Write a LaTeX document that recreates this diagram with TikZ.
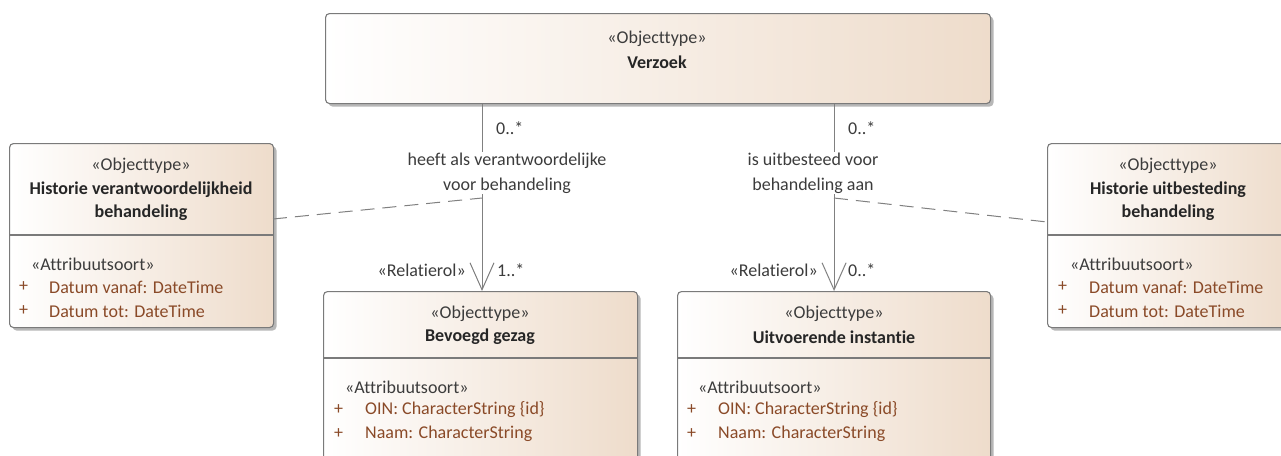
\documentclass[tikz,border=0pt]{standalone}
\usepackage{fontspec}
\setmainfont{Carlito}[Ligatures={NoCommon}]
\usetikzlibrary{shadows,arrows.meta}
\definecolor{edgec}{HTML}{7A7A7A}
\definecolor{lncol}{HTML}{808080}
\definecolor{tanc}{RGB}{238,220,203}
\definecolor{attrc}{HTML}{8A4A28}
\definecolor{txtc}{HTML}{3C3C3C}
\tikzset{
  every node/.style={font=\fontsize{18}{25}\selectfont, inner sep=0pt},
  cls/.style n args={2}{draw=edgec, line width=1.1pt, rounded corners=4pt,
    left color=white, right color=tanc, anchor=north west,
    minimum width=#1pt, minimum height=#2pt,
    drop shadow={shadow xshift=3pt, shadow yshift=-3pt, fill=black!40, opacity=0.7}},
  stereo/.style={text=txtc},
  title/.style={text=black!85, font=\fontsize{18}{25}\selectfont\bfseries},
  attr/.style={text=attrc, anchor=west},
  divider/.style={draw=edgec, line width=1.1pt},
  assoc/.style={draw=lncol, line width=1pt},
  openarrow/.style={-{Straight Barb[length=27pt, width=24pt, line width=1pt]}},
  link/.style={draw=lncol, line width=1pt, dash pattern=on 14pt off 8pt},
  lbl/.style={text=txtc},
  rolelbl/.style={text=txtc, fill=white, inner sep=1pt, align=center}
}
\begin{document}
\begin{tikzpicture}[x=1pt,y=-1pt]
\path[use as bounding box] (0,0) rectangle (1281,455);
\clip (0,0) rectangle (1281,455);
\fill[white] (0,0) rectangle (1281,455);

% boxes
\node[cls={665}{90}] (verzoek) at (325,13) {};
\node[cls={264}{184}] (histL) at (9,143) {};
\node[cls={314}{200}] (bev) at (323,291) {};
\node[cls={313}{200}] (uitv) at (677,291) {};
\node[cls={244}{184}] (histR) at (1047,143) {};

% dividers
\draw[divider] (histL.west |- 0,235) -- (histL.east |- 0,235);
\draw[divider] (bev.west |- 0,358) -- (bev.east |- 0,358);
\draw[divider] (uitv.west |- 0,358) -- (uitv.east |- 0,358);
\draw[divider] (histR.west |- 0,235) -- (histR.east |- 0,235);

% Verzoek
\node[stereo] (vS) at (657,39) {«Objecttype»};
\node[title] (vT) at (657,62) {Verzoek};

% Historie L
\node[stereo] (hlS) at (141,166) {«Objecttype»};
\node[title] (hlT1) at (141,190) {Historie verantwoordelijkheid};
\node[title] (hlT2) at (141,213) {behandeling};
\node[stereo, anchor=west] (hlA) at (31,264) {«Attribuutsoort»};
\node[attr] (hlP1) at (19,287) {+};
\node[attr] (hlA1) at (49,287) {Datum vanaf: DateTime};
\node[attr] (hlP2) at (19,311) {+};
\node[attr] (hlA2) at (49,311) {Datum tot: DateTime};

% Bevoegd gezag
\node[stereo] (bS) at (480,314) {«Objecttype»};
\node[title] (bT) at (480,337) {Bevoegd gezag};
\node[stereo, anchor=west] (bA) at (345,387) {«Attribuutsoort»};
\node[attr] (bP1) at (334,410) {+};
\node[attr] (bA1) at (365,410) {OIN: CharacterString \{id\}};
\node[attr] (bP2) at (334,434) {+};
\node[attr] (bA2) at (365,434) {Naam: CharacterString};

% Uitvoerende instantie
\node[stereo] (uS) at (834,314) {«Objecttype»};
\node[title] (uT) at (834,337) {Uitvoerende instantie};
\node[stereo, anchor=west] (uA) at (698,387) {«Attribuutsoort»};
\node[attr] (uP1) at (687,410) {+};
\node[attr] (uA1) at (718,410) {OIN: CharacterString \{id\}};
\node[attr] (uP2) at (687,434) {+};
\node[attr] (uA2) at (718,434) {Naam: CharacterString};

% Historie R
\node[stereo] (hrS) at (1168,166) {«Objecttype»};
\node[title] (hrT1) at (1168,190) {Historie uitbesteding};
\node[title] (hrT2) at (1168,213) {behandeling};
\node[stereo, anchor=west] (hrA) at (1070,264) {«Attribuutsoort»};
\node[attr] (hrP1) at (1058,287) {+};
\node[attr] (hrA1) at (1089,287) {Datum vanaf: DateTime};
\node[attr] (hrP2) at (1058,311) {+};
\node[attr] (hrA2) at (1089,311) {Datum tot: DateTime};

% associations
\coordinate (a1) at (482,198);
\coordinate (a2) at (834,198);
\coordinate (hlE) at (273,219);
\coordinate (hrW) at (1047,222);
\draw[link] (hlE) -- (a1);
\draw[link] (a2) -- (hrW);
\draw[assoc, openarrow] (verzoek.south -| 482,0) -- (482,291);
\draw[assoc, openarrow] (verzoek.south -| uitv.north) -- (uitv.north);

\node[rolelbl] (l1) at (507,173) {heeft als verantwoordelijke\\voor behandeling};
\node[rolelbl] (l2) at (813,173) {is uitbesteed voor\\behandeling aan};

\node[lbl, anchor=west] (m1) at (496,128) {0..*};
\node[lbl, anchor=west] (m2) at (848,128) {0..*};
\node[lbl, anchor=east] (r1) at (466,270) {«Relatierol»};
\node[lbl, anchor=west] (m3) at (497,270) {1..*};
\node[lbl, anchor=east] (r2) at (818,270) {«Relatierol»};
\node[lbl, anchor=west] (m4) at (848,270) {0..*};
\end{tikzpicture}
\end{document}
